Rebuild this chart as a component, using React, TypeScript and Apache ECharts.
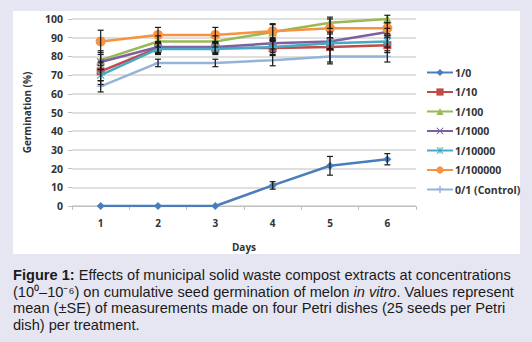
import React, { useEffect, useRef } from "react";
import * as echarts from "echarts";

const days = ["1", "2", "3", "4", "5", "6"];
const seriesNames = ["1/0", "1/10", "1/100", "1/1000", "1/10000", "1/100000", "0/1 (Control)"];
const s0 = [0, 0, 0, 11, 21.5, 25];
const s10 = [72, 84.5, 84.5, 84.5, 85, 86];
const s100 = [78, 88, 88, 93, 98, 100];
const s1000 = [77, 85, 85, 87, 88, 93];
const s10000 = [70, 84, 84, 85, 87, 88];
const s100000 = [88, 91.5, 91.5, 93.5, 95, 95];
const sControl = [64, 76.5, 76.5, 78, 80, 80];
const e0 = [0, 0, 0, 2, 5, 3];
const e10 = [5, 3, 3, 4, 8, 4];
const e100 = [5, 3, 3, 4, 3, 2];
const e1000 = [4, 3, 3, 3, 4, 2];
const e10000 = [5, 3, 3, 3, 3, 3];
const e100000 = [6, 4, 4, 4, 5, 3];
const eControl = [3, 2, 2, 3, 4, 3];
const yTicks = [0, 10, 20, 30, 40, 50, 60, 70, 80, 90, 100];

const values = [s0, s10, s100, s1000, s10000, s100000, sControl];
const errors = [e0, e10, e100, e1000, e10000, e100000, eControl];
const colors = ["#4a7ebb", "#be4b48", "#98b954", "#7d60a0", "#46aac5", "#f69240", "#95b3d7"];
const xPath = "path://M0,1L1,0L5,4L9,0L10,1L6,5L10,9L9,10L5,6L1,10L0,9L4,5Z";
const starPath = "path://M0,1L1,0L5,4L9,0L10,1L6,5L10,9L9,10L5,6L1,10L0,9L4,5Z M4.4,0H5.6V10H4.4Z";
const plusPath = "path://M4,0H6V4H10V6H6V10H4V6H0V4H4Z";
const symbols = ["diamond", "rect", "triangle", xPath, starPath, "circle", plusPath];
const symbolSizes = [8, 8, 9, 8, 8, 10, 7];

export default function App() {
  const ref = useRef<HTMLDivElement>(null);
  useEffect(() => {
    const chart = echarts.init(ref.current!, null, { renderer: "svg" });
    const font = "'Open Sans', 'DejaVu Sans', sans-serif";
    const lineSeries = seriesNames.map((name, k) => ({
      name,
      type: "line",
      data: values[k],
      symbol: symbols[k],
      symbolSize: symbolSizes[k],
      showSymbol: true,
      itemStyle: { color: colors[k] },
      lineStyle: { color: colors[k], width: 2.5 },
      z: 3 + k,
    }));
    const errSeries = seriesNames.map((name, k) => ({
      name: name + " err",
      type: "custom",
      z: 20,
      data: values[k].map((v, i) => [i, v, errors[k][i]]),
      renderItem: (params: any, api: any) => {
        const i = api.value(0);
        const v = api.value(1);
        const e = api.value(2);
        if (!e) return null;
        const top = api.coord([i, v + e]);
        const bot = api.coord([i, v - e]);
        const c = 3;
        const st = { stroke: "#1a1a1a", lineWidth: 1.2 };
        return {
          type: "group",
          children: [
            { type: "line", shape: { x1: top[0], y1: top[1], x2: bot[0], y2: bot[1] }, style: st },
            { type: "line", shape: { x1: top[0] - c, y1: top[1], x2: top[0] + c, y2: top[1] }, style: st },
            { type: "line", shape: { x1: bot[0] - c, y1: bot[1], x2: bot[0] + c, y2: bot[1] }, style: st },
          ],
        };
      },
    }));
    const capFont = "'Liberation Sans', Arial, sans-serif";
    const fs = 14.6;
    const capStyle = (text: string, y: number) => ({
      type: "text",
      left: 13,
      top: y,
      style: {
        text,
        font: `${fs}px ${capFont}`,
        fill: "#1a1a1a",
        rich: {
          b: { fontWeight: "bold", fontSize: fs, fontFamily: capFont, fill: "#1a1a1a" },
          i: { fontStyle: "italic", fontSize: fs, fontFamily: capFont, fill: "#1a1a1a" },
        },
      },
    });
    chart.setOption({
      animation: false,
      backgroundColor: "#e6e6f2",
      graphic: [
        { type: "rect", shape: { x: 13, y: 11, width: 507, height: 243 }, style: { fill: "#ffffff" }, z: -10 },
        capStyle("{b|Figure 1:} Effects of municipal solid waste compost extracts at concentrations", 267),
        capStyle("(10⁰–10⁻⁶) on cumulative seed germination of melon {i|in vitro}. Values represent", 284),
        capStyle("mean (±SE) of measurements made on four Petri dishes (25 seeds per Petri", 300.5),
        capStyle("dish) per treatment.", 317),
      ],
      grid: { left: 72, right: 116, top: 19, bottom: 136 },
      legend: {
        orient: "vertical",
        left: 421,
        top: 62,
        itemWidth: 26,
        itemHeight: 9,
        itemGap: 8.5,
        data: seriesNames,
        textStyle: { fontFamily: font, fontWeight: "bold", fontSize: 10.5, color: "#333", padding: [0, 0, 0, -3] },
      },
      xAxis: {
        type: "category",
        data: days,
        boundaryGap: true,
        name: "Days",
        nameLocation: "middle",
        nameGap: 36,
        nameTextStyle: { fontFamily: font, fontWeight: "bold", fontSize: 10, color: "#333" },
        axisLine: { lineStyle: { color: "#bfbfbf", width: 1 } },
        axisTick: { show: true, length: 4, lineStyle: { color: "#bfbfbf" } },
        axisLabel: { fontFamily: font, fontWeight: "bold", fontSize: 10, color: "#333", margin: 12 },
      },
      yAxis: {
        type: "value",
        min: yTicks[0],
        max: yTicks[yTicks.length - 1],
        interval: 10,
        name: "Germination (%)",
        nameLocation: "middle",
        nameGap: 40,
        nameRotate: 90,
        nameTextStyle: { fontFamily: font, fontWeight: "bold", fontSize: 10, color: "#333" },
        axisLine: { show: false },
        axisTick: { show: true, length: 4, lineStyle: { color: "#bfbfbf" } },
        splitLine: { lineStyle: { color: "#d4d4d4", width: 1.5 } },
        axisLabel: { fontFamily: font, fontWeight: "bold", fontSize: 10.5, color: "#333", margin: 9 },
      },
      series: [...lineSeries, ...errSeries],
    });
    return () => chart.dispose();
  }, []);
  return (
    <div
      ref={ref}
      style={{ position: "absolute", left: 0, top: 0, width: 532, height: 342 }}
    />
  );
}
